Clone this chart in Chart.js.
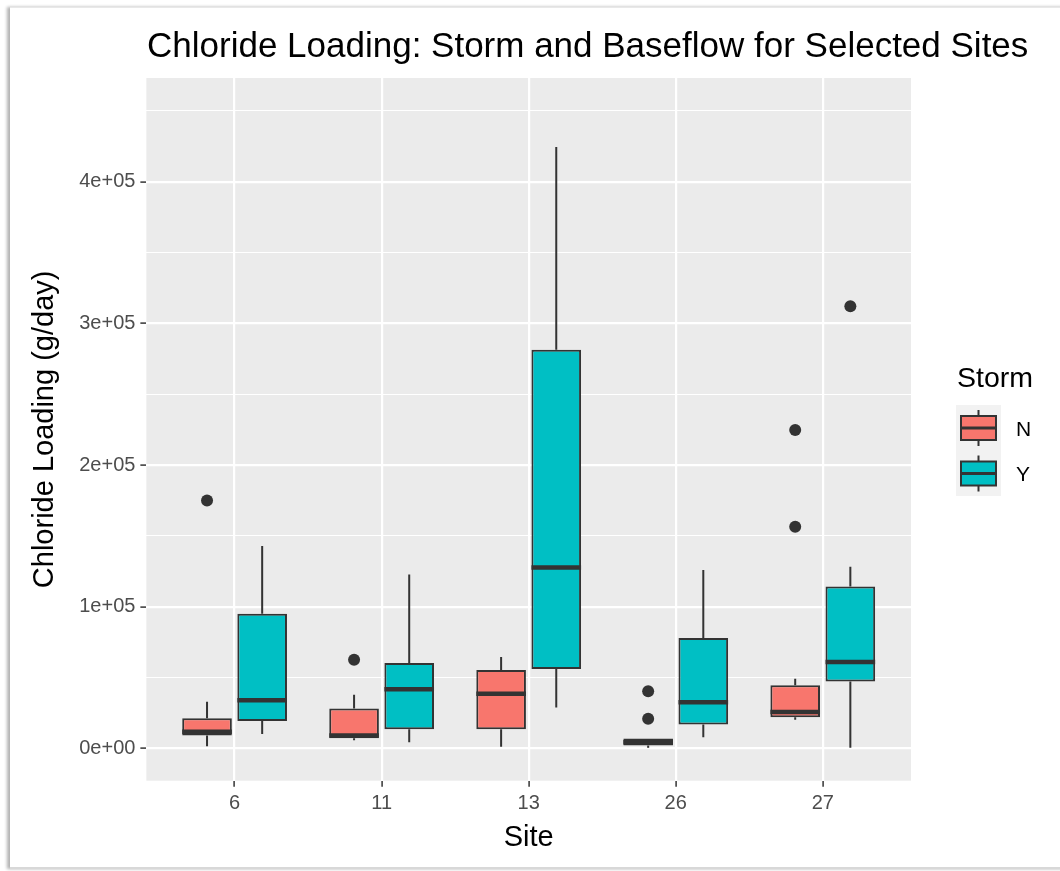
<!DOCTYPE html>
<html>
<head>
<meta charset="utf-8">
<title>Chloride Loading</title>
<script src="https://cdn.jsdelivr.net/npm/chart.js@4.4.1/dist/chart.umd.min.js"></script>
<style>
  html, body { margin: 0; padding: 0; background: #fff; }
  #wrap { position: relative; width: 1060px; height: 871px; overflow: hidden; font-family: "Liberation Sans", Arial, sans-serif; }
  #card { position: absolute; left: 10px; top: 7px; width: 1080px; height: 859px; background: #fff;
          border-top: 1px solid #e8e8e8; border-bottom: 2px solid #d8d8d8; box-shadow: -3px 0 3px rgba(0,0,0,0.3); }
  #chart { position: absolute; left: 0; top: 0; }
  #title { position: absolute; left: 147px; top: 27px; font-size: 35px; line-height: 1; color: #000; white-space: nowrap; }
  #legTitle { position: absolute; left: 957px; top: 363px; font-size: 28.5px; line-height: 1; color: #000; }
  #keys { position: absolute; left: 956px; top: 405px; }
  .lab { position: absolute; left: 1016px; font-size: 21px; line-height: 1; color: #000; }
</style>
</head>
<body>
<div id="wrap">
  <div id="card"></div>
  <canvas id="chart" width="1060" height="871"></canvas>
  <div id="title">Chloride Loading: Storm and Baseflow for Selected Sites</div>
  <div id="legTitle">Storm</div>
  <canvas id="keys" width="45" height="91"></canvas>
  <div class="lab" style="top:418px">N</div>
  <div class="lab" style="top:463px">Y</div>
</div>
<script>
// sites on the x axis and the two storm groups
const sites = ["6", "11", "13", "26", "27"];
const groups = ["N", "Y"];
const groupColors = ["#F8766D", "#00BFC4"];

// box plot summaries (g/day)
const nLow    = [1600, 5800, 1200, 500, 20400];
const nQ1     = [9200, 7200, 13600, 2100, 22000];
const nMedian = [11800, 9200, 38700, 4500, 25800];
const nQ3     = [21300, 28200, 55400, 7000, 44600];
const nHigh   = [33000, 38000, 64600, 7000, 49300];

const yLow    = [10300, 4400, 28900, 8000, 500];
const yQ1     = [19500, 13600, 56100, 16900, 47400];
const yMedian = [34000, 41800, 127700, 32600, 61100];
const yQ3     = [95100, 60400, 281500, 78000, 114300];
const yHigh   = [143000, 122800, 424600, 126000, 128400];

const nOutliers = [[175000], [62700], [], [40400, 21100], [224900, 156600]];
const yOutliers = [[], [], [], [], [312200]];

// y breaks: labelled majors plus the minor grid lines in between
const yTickValues = [0, 100000, 200000, 300000, 400000];
const yTickLabels = ["0e+00", "1e+05", "2e+05", "3e+05", "4e+05"];
const yMinorValues = [50000, 150000, 250000, 350000, 450000];

const dodge = 0.1875; // half of the dodged box slot, in category units

function boxes(q1, q3) {
  return sites.map((s, i) => ({ x: i + 1, y: [q1[i], q3[i]] }));
}
function outlierPoints(list, shift) {
  const pts = [];
  list.forEach((vals, i) => vals.forEach(v => pts.push({ x: i + 1 + shift, y: v })));
  return pts;
}

// gray panel like ggplot
const panelBg = {
  id: "panelBg",
  beforeDraw(chart) {
    const { ctx, chartArea: a } = chart;
    ctx.save();
    ctx.fillStyle = "#EBEBEB";
    ctx.fillRect(a.left, a.top, a.right - a.left, a.bottom - a.top);
    ctx.restore();
  }
};

// whiskers behind the boxes, medians on top
const boxParts = {
  id: "boxParts",
  beforeDatasetsDraw(chart) {
    const ctx = chart.ctx, ys = chart.scales.y;
    ctx.save();
    ctx.strokeStyle = "#333333";
    ctx.lineWidth = 2;
    chart.data.datasets.forEach((ds, di) => {
      if (!ds.high) return;
      chart.getDatasetMeta(di).data.forEach((el, i) => {
        ctx.beginPath();
        ctx.moveTo(el.x, ys.getPixelForValue(ds.data[i].y[1]));
        ctx.lineTo(el.x, ys.getPixelForValue(ds.high[i]));
        ctx.moveTo(el.x, ys.getPixelForValue(ds.data[i].y[0]));
        ctx.lineTo(el.x, ys.getPixelForValue(ds.low[i]));
        ctx.stroke();
      });
    });
    ctx.restore();
  },
  afterDatasetsDraw(chart) {
    const ctx = chart.ctx, ys = chart.scales.y;
    ctx.save();
    ctx.strokeStyle = "#333333";
    ctx.lineWidth = 4.5;
    chart.data.datasets.forEach((ds, di) => {
      if (!ds.median) return;
      chart.getDatasetMeta(di).data.forEach((el, i) => {
        const y = ys.getPixelForValue(ds.median[i]);
        ctx.beginPath();
        ctx.moveTo(el.x - el.width / 2, y);
        ctx.lineTo(el.x + el.width / 2, y);
        ctx.stroke();
      });
    });
    ctx.restore();
  }
};

const isMajor = v => yTickValues.includes(v);

new Chart(document.getElementById("chart"), {
  type: "bar",
  data: {
    datasets: [
      { label: groups[0], data: boxes(nQ1, nQ3), low: nLow, median: nMedian, high: nHigh,
        backgroundColor: groupColors[0], borderColor: "#333333", borderWidth: 2, borderSkipped: false },
      { label: groups[1], data: boxes(yQ1, yQ3), low: yLow, median: yMedian, high: yHigh,
        backgroundColor: groupColors[1], borderColor: "#333333", borderWidth: 2, borderSkipped: false },
      { type: "scatter", label: "outliers", order: -1,
        data: outlierPoints(nOutliers, -dodge).concat(outlierPoints(yOutliers, dodge)),
        pointRadius: 6, backgroundColor: "#333333", borderWidth: 0 }
    ]
  },
  options: {
    responsive: false,
    animation: false,
    categoryPercentage: 0.75,
    barPercentage: 0.9,
    layout: { padding: { top: 78, right: 149, bottom: 15.5, left: 10 } },
    plugins: {
      legend: { display: false },
      title: { display: false },
      tooltip: { enabled: false }
    },
    scales: {
      x: {
        type: "linear",
        min: 0.4,
        max: 5.6,
        offset: false,
        afterBuildTicks: axis => { axis.ticks = sites.map((s, i) => ({ value: i + 1 })); },
        ticks: {
          autoSkip: false,
          maxRotation: 0,
          padding: 5,
          color: "#4D4D4D",
          font: { family: "Liberation Sans", size: 20 },
          callback: v => sites[Math.round(v) - 1] || ""
        },
        grid: { offset: false, color: "#FFFFFF", lineWidth: 2.2, tickColor: "#333333", tickLength: 6, tickWidth: 1.5 },
        border: { display: false },
        title: { display: true, text: "Site", color: "#000", font: { family: "Liberation Sans", size: 29 }, padding: { top: 0, bottom: 0 } }
      },
      y: {
        min: -22700,
        max: 473300,
        afterBuildTicks: axis => {
          axis.ticks = yTickValues.concat(yMinorValues).sort((a, b) => a - b).map(v => ({ value: v }));
        },
        ticks: {
          autoSkip: false,
          padding: 5,
          color: "#4D4D4D",
          font: { family: "Liberation Sans", size: 20 },
          callback: v => (isMajor(v) ? yTickLabels[yTickValues.indexOf(v)] : "")
        },
        grid: {
          color: "#FFFFFF",
          lineWidth: c => (isMajor(c.tick.value) ? 2.2 : 1.1),
          tickColor: c => (isMajor(c.tick.value) ? "#333333" : "rgba(0,0,0,0)"),
          tickLength: 6,
          tickWidth: 1.5
        },
        border: { display: false },
        title: { display: true, text: "Chloride Loading (g/day)", color: "#000", font: { family: "Liberation Sans", size: 29 }, padding: { top: 17.6, bottom: 11.8 } }
      }
    }
  },
  plugins: [panelBg, boxParts]
});

// legend keys drawn as small box glyphs
(function drawKeys() {
  const ctx = document.getElementById("keys").getContext("2d");
  ctx.fillStyle = "#F2F2F2";
  ctx.fillRect(0, 0, 45, 91);
  groupColors.forEach((col, k) => {
    const top = k * 45.5;
    ctx.strokeStyle = "#333333";
    ctx.lineWidth = 2;
    ctx.beginPath();
    ctx.moveTo(22.5, top + 5); ctx.lineTo(22.5, top + 41);
    ctx.stroke();
    ctx.fillStyle = col;
    ctx.fillRect(5, top + 11, 35, 24);
    ctx.strokeRect(5, top + 11, 35, 24);
    ctx.lineWidth = 3;
    ctx.beginPath();
    ctx.moveTo(5, top + 23); ctx.lineTo(40, top + 23);
    ctx.stroke();
  });
})();
</script>
</body>
</html>
